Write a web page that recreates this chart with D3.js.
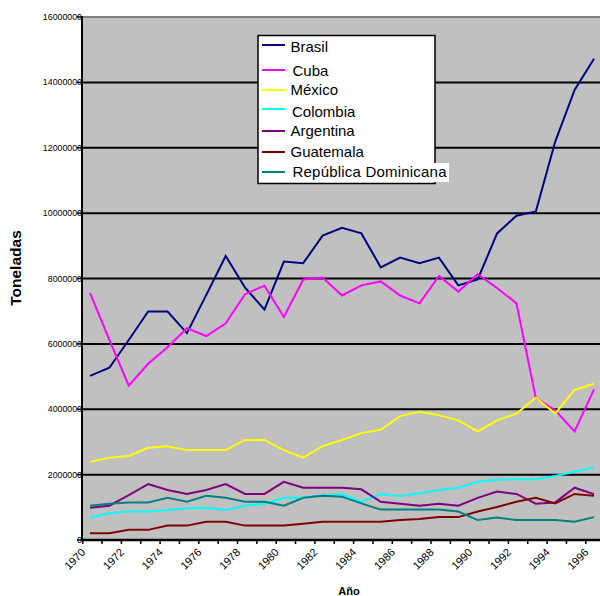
<!DOCTYPE html>
<html>
<head>
<meta charset="utf-8">
<script src="https://cdn.jsdelivr.net/npm/d3@7"></script>
<style>
  body { margin: 0; background: #fff; }
  svg { display: block; font-family: "Liberation Sans", Arial, sans-serif; }
</style>
</head>
<body>
<div id="viz"></div>
<script>
// años (categorías)
var years = [1970, 1971, 1972, 1973, 1974, 1975, 1976, 1977, 1978, 1979,
             1980, 1981, 1982, 1983, 1984, 1985, 1986, 1987, 1988, 1989,
             1990, 1991, 1992, 1993, 1994, 1995, 1996];

// toneladas por país
var brasil    = [5020000, 5270000, 6120000, 6990000, 6990000, 6330000, 7500000, 8690000, 7720000, 7050000,
                 8520000, 8470000, 9310000, 9550000, 9380000, 8340000, 8640000, 8470000, 8640000, 7790000,
                 7970000, 9380000, 9920000, 10050000, 12190000, 13770000, 14720000];
var cuba      = [7560000, 6120000, 4720000, 5390000, 5900000, 6480000, 6240000, 6630000, 7520000, 7780000,
                 6820000, 7970000, 8030000, 7480000, 7790000, 7910000, 7480000, 7240000, 8080000, 7600000,
                 8130000, 7710000, 7240000, 4340000, 3970000, 3320000, 4610000];
var mexico    = [2390000, 2520000, 2570000, 2820000, 2870000, 2750000, 2750000, 2750000, 3060000, 3060000,
                 2750000, 2520000, 2870000, 3060000, 3270000, 3370000, 3790000, 3920000, 3820000, 3660000,
                 3320000, 3660000, 3870000, 4350000, 3870000, 4590000, 4780000];
var colombia  = [690000, 820000, 870000, 870000, 920000, 970000, 990000, 920000, 1050000, 1110000,
                 1290000, 1290000, 1370000, 1400000, 1170000, 1400000, 1350000, 1430000, 1530000, 1600000,
                 1780000, 1840000, 1860000, 1860000, 1960000, 2090000, 2220000];
var argentina = [990000, 1050000, 1370000, 1710000, 1530000, 1410000, 1530000, 1710000, 1410000, 1410000,
                 1780000, 1600000, 1600000, 1600000, 1550000, 1170000, 1110000, 1050000, 1110000, 1050000,
                 1290000, 1480000, 1410000, 1110000, 1150000, 1600000, 1400000];
var guatemala = [210000, 210000, 310000, 310000, 440000, 440000, 560000, 560000, 440000, 440000,
                 440000, 500000, 560000, 560000, 560000, 560000, 610000, 640000, 700000, 700000,
                 870000, 1010000, 1170000, 1290000, 1120000, 1410000, 1350000];
var dominicana = [1050000, 1110000, 1150000, 1150000, 1290000, 1170000, 1350000, 1290000, 1170000, 1170000,
                  1050000, 1290000, 1350000, 1320000, 1120000, 930000, 930000, 930000, 930000, 870000,
                  610000, 690000, 610000, 610000, 610000, 560000, 700000];

var names  = ["Brasil", "Cuba", "México", "Colombia", "Argentina", "Guatemala", "República Dominicana"];
var colors = ["#000080", "#ff00ff", "#ffff00", "#00ffff", "#800080", "#800000", "#008080"];
var series = [brasil, cuba, mexico, colombia, argentina, guatemala, dominicana];
var yTicks = [0, 2000000, 4000000, 6000000, 8000000, 10000000, 12000000, 14000000, 16000000];
var xLabels = [1970, 1972, 1974, 1976, 1978, 1980, 1982, 1984, 1986, 1988, 1990, 1992, 1994, 1996];

var W = 600, H = 596;
var pLeft = 82, pTop = 17, pBottom = 540, pRight = 600;

var svg = d3.select("#viz").append("svg")
    .attr("width", W)
    .attr("height", H);

var xb = d3.scaleBand().domain(years).range([82.7, 82.7 + 27 * 19.35]);
var x = d3.scalePoint().domain(years).range([90, 594]);
var y = d3.scaleLinear().domain([0, 16000000]).range([pBottom, pTop]);

// fondo del área de trazado
svg.append("rect")
    .attr("x", pLeft)
    .attr("y", pTop)
    .attr("width", pRight - pLeft)
    .attr("height", pBottom - pTop)
    .attr("fill", "#c0c0c0");

// líneas de división
svg.selectAll(".grid")
    .data(yTicks.filter(function(d) { return d > 0 && d < 16000000; }))
  .enter().append("line")
    .attr("x1", pLeft).attr("x2", pRight)
    .attr("y1", function(d) { return y(d); })
    .attr("y2", function(d) { return y(d); })
    .attr("stroke", "#000")
    .attr("stroke-width", 2);

// borde superior gris
svg.append("line")
    .attr("x1", pLeft).attr("x2", pRight)
    .attr("y1", pTop).attr("y2", pTop)
    .attr("stroke", "#808080")
    .attr("stroke-width", 2);

// series
var line = d3.line()
    .x(function(d, i) { return x(years[i]); })
    .y(function(d) { return y(d); });

series.forEach(function(s, k) {
  svg.append("path")
      .datum(s)
      .attr("d", line)
      .attr("fill", "none")
      .attr("stroke", colors[k])
      .attr("stroke-width", 2)
      .attr("stroke-linejoin", "miter");
});

// eje Y
svg.selectAll(".ylab")
    .data(yTicks)
  .enter().append("text")
    .attr("x", 82)
    .attr("y", function(d) { return y(d); })
    .attr("dy", "0.35em")
    .attr("text-anchor", "end")
    .attr("font-size", "8.8px")
    .attr("fill", "#000")
    .text(function(d) { return d; });

svg.selectAll(".ytick")
    .data(yTicks)
  .enter().append("line")
    .attr("x1", 77).attr("x2", pLeft)
    .attr("y1", function(d) { return y(d); })
    .attr("y2", function(d) { return y(d); })
    .attr("stroke", "#000")
    .attr("stroke-width", 1.5);

svg.append("line")
    .attr("x1", pLeft).attr("x2", pLeft)
    .attr("y1", pTop - 1).attr("y2", pBottom + 1)
    .attr("stroke", "#000")
    .attr("stroke-width", 2);

// eje X
svg.append("line")
    .attr("x1", pLeft - 1).attr("x2", pRight)
    .attr("y1", pBottom).attr("y2", pBottom)
    .attr("stroke", "#000")
    .attr("stroke-width", 2.5);

svg.selectAll(".xtick")
    .data(years)
  .enter().append("line")
    .attr("x1", function(d) { return xb(d); })
    .attr("x2", function(d) { return xb(d); })
    .attr("y1", pBottom).attr("y2", pBottom + 4)
    .attr("stroke", "#000")
    .attr("stroke-width", 1.5);

svg.selectAll(".xlab")
    .data(xLabels)
  .enter().append("text")
    .attr("transform", function(d) { return "translate(" + (xb(d) + 3.5) + ",553)rotate(-45)"; })
    .attr("text-anchor", "end")
    .attr("font-size", "11px")
    .attr("fill", "#000")
    .text(function(d) { return d; });

// títulos
svg.append("text")
    .attr("transform", "translate(21,268)rotate(-90)")
    .attr("text-anchor", "middle")
    .attr("font-size", "15.5px")
    .attr("font-weight", "bold")
    .text("Toneladas");

svg.append("text")
    .attr("x", 349)
    .attr("y", 595)
    .attr("text-anchor", "middle")
    .attr("font-size", "11px")
    .attr("font-weight", "bold")
    .text("Año");

// leyenda
var legRowsLine = [45, 70, 90, 109, 131, 152, 172];
var legRowsText = [51.5, 75.5, 94.5, 117, 136, 157, 177];
var legTextX = [290.5, 292.5, 290.5, 292, 290.5, 290.5, 292.5];

var leg = svg.append("g");
leg.append("rect")
    .attr("x", 258).attr("y", 35.5)
    .attr("width", 177).attr("height", 148)
    .attr("fill", "#fff")
    .attr("stroke", "#000")
    .attr("stroke-width", 1.5);

leg.append("rect")
    .attr("x", 290).attr("y", 163)
    .attr("width", 159).attr("height", 19)
    .attr("fill", "#fff");

names.forEach(function(n, k) {
  leg.append("line")
      .attr("x1", 262).attr("x2", 285)
      .attr("y1", legRowsLine[k]).attr("y2", legRowsLine[k])
      .attr("stroke", colors[k])
      .attr("stroke-width", 2);
  leg.append("text")
      .attr("x", legTextX[k])
      .attr("y", legRowsText[k])
      .attr("font-size", "15px")
      .attr("fill", "#000")
      .attr("textLength", k == 6 ? 154 : null)
      .text(n);
});
</script>
</body>
</html>
